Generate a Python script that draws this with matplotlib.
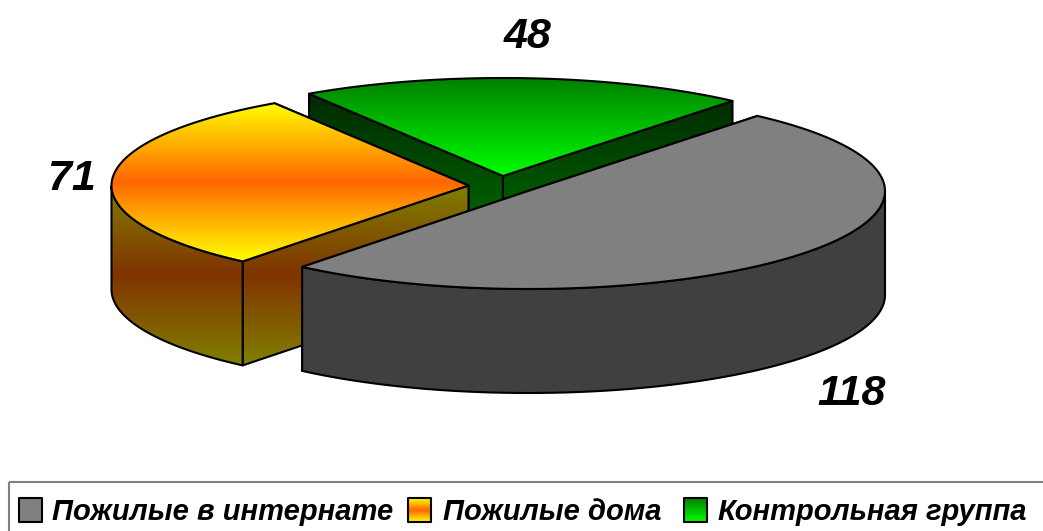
import numpy as np
import matplotlib
matplotlib.use("Agg")
import matplotlib.pyplot as plt
from matplotlib.colors import LinearSegmentedColormap
from matplotlib.patches import Polygon, Rectangle

# Data
categories = ["Пожилые в интернате", "Пожилые дома", "Контрольная группа"]
values = [118, 71, 48]

# Style / layout
W, H = 1043, 531
start_angle = 50.0
radius_x, radius_y, depth = 357.0, 98.0, 104.0
centers = [(528, 191), (468.5, 185.5), (503, 176)]
top_colors = [["#808080", "#808080"], ["#ffff00", "#ff6600", "#ffff00"], ["#008000", "#00ff00"]]
side_colors = [["#404040", "#404040"], ["#808000", "#803300", "#808000"], ["#002800", "#008000"]]
label_pos = [(852, 405), (72, 190), (528, 48)]
legend_marker_x = [19, 408, 684]
legend_text_x = [52, 443, 718]
EDGE = 1.5

fig = plt.figure(figsize=(W / 100, H / 100), dpi=100, facecolor="white")
ax = fig.add_axes([0, 0, 1, 1])
ax.set_axis_off()


def rim(c, a0, a1, n=120):
    t = np.radians(np.linspace(a0, a1, n))
    return np.column_stack([c[0] + radius_x * np.cos(t), c[1] - radius_y * np.sin(t)])


def gradient_poly(pts, colors, y0, y1, z):
    cmap = LinearSegmentedColormap.from_list("g", colors)
    im = ax.imshow(np.linspace(0, 1, 256)[:, None], cmap=cmap, vmin=0, vmax=1, aspect="auto",
                   extent=(0, W, y1, y0), zorder=z, interpolation="bilinear")
    im.set_clip_path(Polygon(pts, closed=True, transform=ax.transData))
    ax.add_patch(Polygon(pts, closed=True, fill=False, edgecolor="black", lw=EDGE,
                         joinstyle="round", zorder=z + 0.5))


total = sum(values)
spans = []
a = start_angle
for v in values:
    spans.append((a, a - 360.0 * v / total))
    a -= 360.0 * v / total

drop = np.array([0, depth])
z = 1
for idx in [2, 1, 0]:  # back to front
    c = np.array(centers[idx], float)
    a0, a1 = spans[idx]
    arc = rim(c, a0, a1)
    top = np.vstack([c, arc])
    ends = sorted([arc[0], arc[-1]], key=lambda p: p[1])  # rear radial face first
    # outer wall: the part of the rim on the near side
    t = np.linspace(a0, a1, 240)
    near = t[np.sin(np.radians(t)) <= 0]
    wall = None
    if near.size > 1:
        r = rim(c, near[0], near[-1])
        wall = np.vstack([r, (r + drop)[::-1]])
    # side gradient range covers the faces the viewer can see
    if wall is not None:
        seen = np.vstack([wall, c, c + drop, ends[-1], ends[-1] + drop])
    else:
        seen = np.vstack([c, c + drop, ends[0], ends[1], ends[0] + drop, ends[1] + drop])
    ymin, ymax = seen[:, 1].min(), seen[:, 1].max()
    for e in ends:
        face = np.array([c, e, e + drop, c + drop])
        gradient_poly(face, side_colors[idx], ymin, ymax, z)
        z += 1
    if wall is not None:
        gradient_poly(wall, side_colors[idx], ymin, ymax, z)
        z += 1
    gradient_poly(top, top_colors[idx], top[:, 1].min(), top[:, 1].max(), z)
    z += 1

# Value labels
for v, (x, y) in zip(values, label_pos):
    ax.text(x, y, str(v), ha="center", va="baseline", family="Liberation Sans",
            weight="bold", style="italic", fontsize=31, color="black", zorder=z)

# Legend frame and entries
ax.add_patch(Rectangle((9, 482), W + 20, 80, fill=False, edgecolor="#808080", lw=1.5, zorder=z))
for name, mx, tx, cols in zip(categories, legend_marker_x, legend_text_x, top_colors):
    pts = np.array([[mx, 498], [mx + 22.5, 498], [mx + 22.5, 522], [mx, 522]], float)
    gradient_poly(pts, cols, 498, 522, z + 1)
    ax.text(tx, 520, name, ha="left", va="baseline", family="Liberation Sans", weight="bold",
            style="italic", fontsize=21, color="black", zorder=z + 2)

ax.set_xlim(0, W)
ax.set_ylim(H, 0)
fig.savefig("out.png", dpi=100, facecolor="white")
